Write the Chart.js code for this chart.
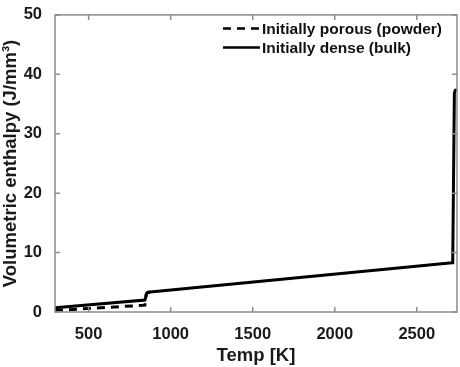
<!DOCTYPE html>
<html>
<head>
<meta charset="utf-8">
<script src="https://cdn.jsdelivr.net/npm/chart.js@4"></script>
<style>
  html, body { margin: 0; padding: 0; background: #fff; }
  #wrap { width: 460px; height: 367px; }
</style>
</head>
<body>
<div id="wrap"><canvas id="enthalpyChart" width="460" height="367"></canvas></div>
<script>
// values
const bulkTemp = [295, 843, 848, 852, 860, 875, 2715, 2719, 2729, 2734, 2745];
const bulkEnthalpy = [0.7, 2.0, 2.5, 3.05, 3.3, 3.35, 8.3, 8.6, 36.8, 37.3, 37.4];
const powderTemp = [295, 843, 848, 852, 860, 875];
const powderEnthalpy = [0.25, 1.15, 2.4, 3.05, 3.3, 3.35];
const xTicks = [500, 1000, 1500, 2000, 2500];
const yTicks = [0, 10, 20, 30, 40, 50];
const seriesLabels = ["Initially porous (powder)", "Initially dense (bulk)"];

const toPoints = (xs, ys) => xs.map((x, i) => ({ x, y: ys[i] }));
const font = "'Liberation Sans', Arial, sans-serif";
const axisColor = "#8c8c8c";

// MATLAB style box with inward ticks
const boxPlugin = {
    id: "box",
    afterDraw(chart) {
        let { ctx, chartArea: a, scales: { x, y } } = chart;
        ctx.save();
        ctx.strokeStyle = axisColor;
        ctx.lineWidth = 1.5;
        ctx.strokeRect(a.left, a.top, a.right - a.left, a.bottom - a.top);
        ctx.beginPath();
        xTicks.forEach(v => {
            let px = x.getPixelForValue(v);
            ctx.moveTo(px, a.bottom); ctx.lineTo(px, a.bottom - 5);
            ctx.moveTo(px, a.top); ctx.lineTo(px, a.top + 5);
        });
        yTicks.forEach(v => {
            let py = y.getPixelForValue(v);
            ctx.moveTo(a.left, py); ctx.lineTo(a.left + 5, py);
            ctx.moveTo(a.right, py); ctx.lineTo(a.right - 5, py);
        });
        ctx.stroke();

        // legend
        ctx.font = "bold 15.5px " + font;
        ctx.textBaseline = "middle";
        ctx.fillStyle = "#111";
        chart.data.datasets.forEach((ds, i) => {
            let yy = 28.5 + i * 19;
            ctx.strokeStyle = "#000";
            ctx.lineWidth = 2.5;
            ctx.setLineDash(ds.borderDash || []);
            ctx.beginPath();
            ctx.moveTo(223, yy); ctx.lineTo(260, yy);
            ctx.stroke();
            ctx.setLineDash([]);
            ctx.fillText(ds.label, 262, yy + 1);
        });
        ctx.restore();
    }
};

new Chart(document.getElementById("enthalpyChart").getContext("2d"), {
    type: "line",
    data: {
        datasets: [
            { label: seriesLabels[0], data: toPoints(powderTemp, powderEnthalpy), borderColor: "#000", borderWidth: 3, borderDash: [8, 6], pointRadius: 0, fill: false },
            { label: seriesLabels[1], data: toPoints(bulkTemp, bulkEnthalpy), borderColor: "#000", borderWidth: 3, pointRadius: 0, fill: false }
        ]
    },
    options: {
        responsive: false,
        animation: false,
        devicePixelRatio: 1,
        layout: { padding: { top: 7, right: 3, left: 0, bottom: 0 } },
        plugins: { legend: { display: false }, tooltip: { enabled: false } },
        scales: {
            x: {
                type: "linear", min: 295, max: 2745,
                afterBuildTicks: s => { s.ticks = xTicks.map(v => ({ value: v })); },
                afterFit: s => { s.height = 55; },
                grid: { display: false },
                border: { display: false },
                ticks: { padding: 5, color: "#1a1a1a", callback: v => String(v), font: { family: font, size: 16.5, weight: "bold" } },
                title: { display: true, text: "Temp [K]", color: "#1a1a1a", padding: 0, font: { family: font, size: 18.5, weight: "bold" } }
            },
            y: {
                type: "linear", min: 0, max: 50,
                afterBuildTicks: s => { s.ticks = yTicks.map(v => ({ value: v })); },
                afterFit: s => { s.width = 55; },
                grid: { display: false },
                border: { display: false },
                ticks: { padding: 5, color: "#1a1a1a", callback: v => String(v), font: { family: font, size: 16.5, weight: "bold" } },
                title: { display: true, text: "Volumetric enthalpy (J/mm³)", color: "#1a1a1a", padding: 0, font: { family: font, size: 18.5, weight: "bold" } }
            }
        }
    },
    plugins: [boxPlugin]
});
</script>
</body>
</html>
